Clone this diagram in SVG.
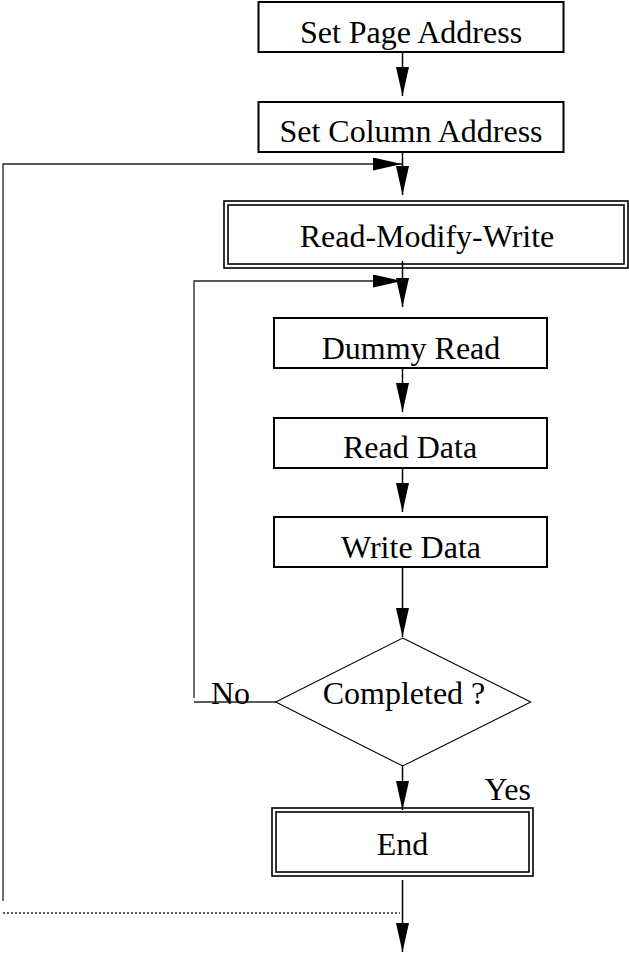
<svg xmlns="http://www.w3.org/2000/svg" width="629" height="956" viewBox="0 0 629 956">
<style>
.box{fill:#fff;stroke:#000;stroke-width:2}
.dbl{fill:none;stroke:#000;stroke-width:1.6}
.dia{fill:#fff;stroke:#000;stroke-width:1.1}
.t{font-family:"Liberation Serif","Times New Roman",serif;font-size:32px;fill:#000}
.c{text-anchor:middle}
.ln{fill:none;stroke:#000;stroke-width:1.5}
.lp{fill:none;stroke:#222;stroke-width:1.3}
.dot{fill:none;stroke:#222;stroke-width:1.3;stroke-dasharray:2 2}
</style>
<defs>
<marker id="ah" markerUnits="userSpaceOnUse" markerWidth="30" markerHeight="14" refX="29" refY="6.5" orient="auto" viewBox="0 0 30 14">
<path d="M0,0 L29,6.5 L0,13 z" fill="#000"/>
</marker>
</defs>
<rect width="629" height="956" fill="#fff"/>
<g id="connectors">
<line class="ln" x1="402.5" y1="52" x2="402.5" y2="96" marker-end="url(#ah)"/>
<line class="ln" x1="402.5" y1="150" x2="402.5" y2="195" marker-end="url(#ah)"/>
<polyline class="lp" points="3,901 3,164 402,164" marker-end="url(#ah)"/>
<line class="ln" x1="402.5" y1="261" x2="402.5" y2="307" marker-end="url(#ah)"/>
<polyline class="lp" points="194,698 194,281 402,281" marker-end="url(#ah)"/>
<line class="lp" x1="194" y1="702" x2="276" y2="702"/>
<line class="ln" x1="402.5" y1="365" x2="402.5" y2="412" marker-end="url(#ah)"/>
<line class="ln" x1="402.5" y1="465" x2="402.5" y2="512" marker-end="url(#ah)"/>
<line class="ln" x1="402.5" y1="567" x2="402.5" y2="637" marker-end="url(#ah)"/>
<line class="ln" x1="402.5" y1="766" x2="402.5" y2="810" marker-end="url(#ah)"/>
<line class="ln" x1="402.5" y1="880" x2="402.5" y2="952" marker-end="url(#ah)"/>
<line class="dot" x1="3" y1="913" x2="400" y2="913"/>
</g>
<g id="set-page-address">
<rect class="box" x="258.5" y="2" width="305" height="50"/>
<text class="t c" x="411" y="43">Set Page Address</text>
</g>
<g id="set-column-address">
<rect class="box" x="258.5" y="102" width="305" height="50"/>
<text class="t c" x="411" y="142">Set Column Address</text>
</g>
<g id="read-modify-write">
<rect class="dbl" x="224" y="201" width="404" height="67" fill="#fff"/>
<rect class="dbl" x="228" y="205" width="396" height="59"/>
<text class="t c" x="427" y="247">Read-Modify-Write</text>
</g>
<g id="dummy-read">
<rect class="box" x="274" y="318" width="273" height="50"/>
<text class="t c" x="411" y="359">Dummy Read</text>
</g>
<g id="read-data">
<rect class="box" x="274" y="418" width="273" height="50"/>
<text class="t c" x="410" y="458">Read Data</text>
</g>
<g id="write-data">
<rect class="box" x="274" y="517" width="273" height="50"/>
<text class="t c" x="411" y="558">Write Data</text>
</g>
<g id="completed">
<polygon class="dia" points="402.7,638 530.7,702 402.7,766 275.7,702"/>
<text class="t c" x="404" y="704">Completed ?</text>
</g>
<g id="labels">
<text class="t" x="211" y="704">No</text>
<text class="t" x="531" y="800" text-anchor="end">Yes</text>
</g>
<g id="end">
<rect class="dbl" x="272" y="808" width="261" height="68" fill="#fff"/>
<rect class="dbl" x="276" y="812" width="253" height="60"/>
<text class="t c" x="402.5" y="855">End</text>
</g>
</svg>
